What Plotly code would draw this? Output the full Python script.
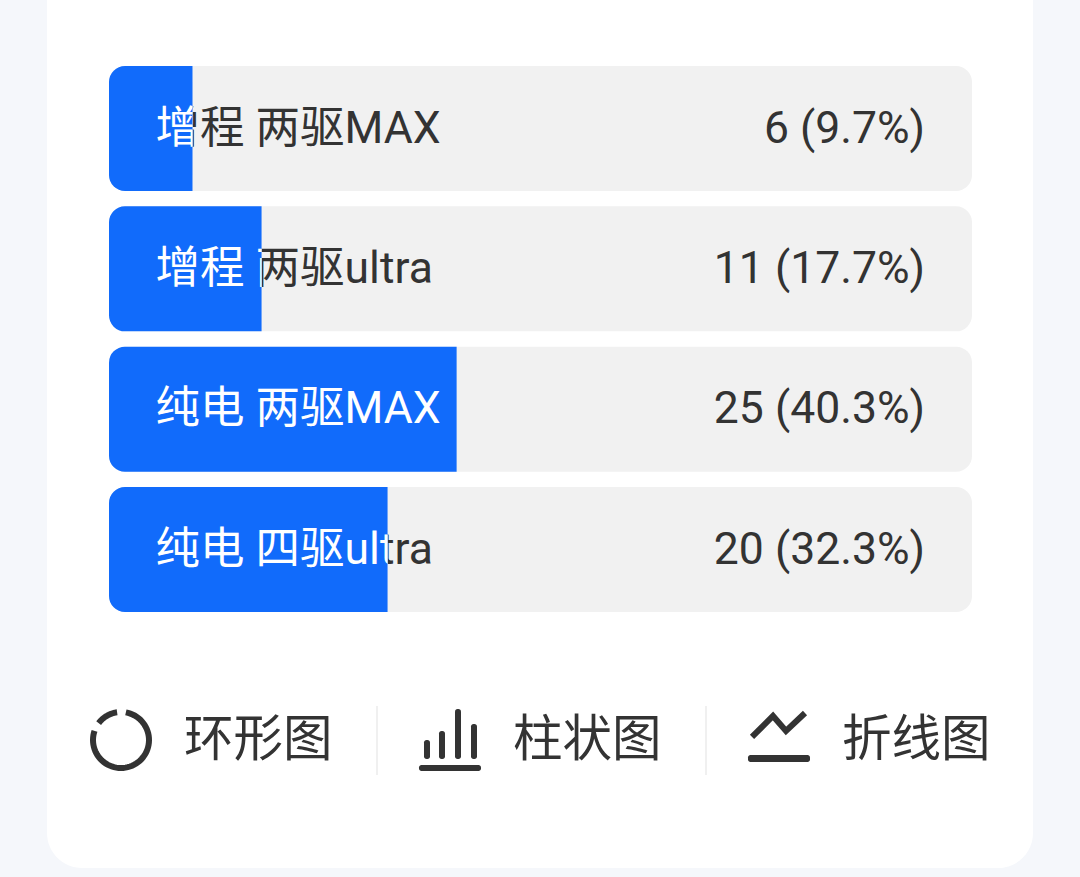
import numpy as np
import plotly.graph_objects as go

# ---- data ----
categories = ["增程 两驱MAX", "增程 两驱ultra", "纯电 两驱MAX", "纯电 四驱ultra"]
counts = [6, 11, 25, 20]
percents = [9.7, 17.7, 40.3, 32.3]
switch_labels = ["环形图", "柱状图", "折线图"]

# ---- styles ----
W, H = 1080, 877
BG, CARD, TRACK, BLUE, INK, SEP = "#f5f7fb", "#ffffff", "#f1f1f1", "#116bfb", "#333333", "#ebebeb"
FONT = "Roboto, 'Noto Sans CJK SC'"
CJK = "Noto Sans CJK SC"
FS_ROW, FS_SW = 44.5, 49.5
X0, X1 = 109, 972
UNIT = (X1 - X0) / 100
PITCH = 140.33
ROW0 = 128.5
BAR_H = 125
RADIUS = 16
LABEL_X = (155.5 - X0) / UNIT
VALUE_X = (925 - X0) / UNIT
TEXT_DY = 3 / PITCH

px = lambda x: x / W
py = lambda y: 1 - y / H
pt = lambda x, y: f"{px(x):.5f},{py(y):.5f}"


def rrect(x0, y0, x1, y1, r):
    k = r * 0.45
    return (f"M{pt(x0 + r, y0)} L{pt(x1 - r, y0)} C{pt(x1 - k, y0)} {pt(x1, y0 + k)} {pt(x1, y0 + r)} "
            f"L{pt(x1, y1 - r)} C{pt(x1, y1 - k)} {pt(x1 - k, y1)} {pt(x1 - r, y1)} "
            f"L{pt(x0 + r, y1)} C{pt(x0 + k, y1)} {pt(x0, y1 - k)} {pt(x0, y1 - r)} "
            f"L{pt(x0, y0 + r)} C{pt(x0, y0 + k)} {pt(x0 + k, y0)} {pt(x0 + r, y0)} Z")


def arc(cx, cy, r, a0, a1):
    t = np.radians(np.linspace(a0, a1, 60))
    p = [pt(cx + r * np.sin(a), cy - r * np.cos(a)) for a in t]
    return "M" + " L".join(p)


fig = go.Figure()
n = len(categories)
rows = list(range(n))
text_rows = [r + TEXT_DY for r in rows]
bar_w = BAR_H / PITCH

# grey track: an explicit base rounds both ends
fig.add_trace(go.Bar(y=rows, x=[100] * n, base=[0] * n, orientation="h", width=bar_w,
                     marker=dict(color=TRACK, line_width=0, cornerradius=RADIUS),
                     hoverinfo="skip", showlegend=False))
# dark labels and values
fig.add_trace(go.Scatter(y=text_rows, x=[LABEL_X] * n, mode="text", text=categories,
                         textposition="middle right", textfont=dict(family=FONT, size=FS_ROW, color=INK),
                         hoverinfo="skip", showlegend=False))
fig.add_trace(go.Scatter(y=text_rows, x=[VALUE_X] * n, mode="text",
                         text=[f"{c} ({p}%)" for c, p in zip(counts, percents)],
                         textposition="middle left", textfont=dict(family=FONT, size=FS_ROW, color=INK),
                         hoverinfo="skip", showlegend=False))

layout_axes = {}
for i, (cat, p) in enumerate(zip(categories, percents)):
    ax = f"x{i + 2}"
    # Each blue bar has its own reversed axis: zero sits at the bar's right end, so only the
    # left (far) end is rounded, and the white label is clipped where the bar stops.
    fig.add_trace(go.Bar(y=[i], x=[p], orientation="h", width=bar_w, xaxis=ax, yaxis="y",
                         marker=dict(color=BLUE, line_width=0, cornerradius=RADIUS),
                         hoverinfo="skip", showlegend=False))
    fig.add_trace(go.Scatter(y=[i + TEXT_DY], x=[p - LABEL_X], mode="text", text=[cat], xaxis=ax, yaxis="y",
                             textposition="middle right", cliponaxis=True,
                             textfont=dict(family=FONT, size=FS_ROW, color="#ffffff"),
                             hoverinfo="skip", showlegend=False))
    layout_axes[f"xaxis{i + 2}"] = dict(domain=[px(X0), px(X0 + p * UNIT)], range=[p, 0], visible=False,
                                        anchor="y", fixedrange=True)

# ---- decoration ----
shapes = [dict(type="path", xref="paper", yref="paper", path=rrect(47, -60, 1033, 868, 35),
               fillcolor=CARD, line_width=0, layer="below")]
for x in (377, 706):
    shapes.append(dict(type="line", xref="paper", yref="paper", x0=px(x), x1=px(x), y0=py(706), y1=py(775),
                       line=dict(color=SEP, width=1.5), layer="below"))
# ring icon
for a0, a1 in ((10, 289), (307, 352)):
    shapes.append(dict(type="path", xref="paper", yref="paper", path=arc(121, 740, 28, a0, a1),
                       line=dict(color=INK, width=6), layer="above"))
# column icon
for x0, x1, y0 in ((424, 430, 740), (439, 445, 731), (455, 461, 709), (471, 477, 724)):
    shapes.append(dict(type="path", xref="paper", yref="paper", path=rrect(x0, y0, x1, 759, 2.5),
                       fillcolor=INK, line_width=0, layer="above"))
shapes.append(dict(type="path", xref="paper", yref="paper", path=rrect(419, 765, 481, 771, 2.5),
                   fillcolor=INK, line_width=0, layer="above"))
# line icon
shapes.append(dict(type="path", xref="paper", yref="paper",
                   path="M" + " L".join(pt(x, y) for x, y in ((752, 737), (773, 716), (786, 731), (805, 713))),
                   line=dict(color=INK, width=6), layer="above"))
shapes.append(dict(type="path", xref="paper", yref="paper", path=rrect(748, 755, 810, 762, 2.5),
                   fillcolor=INK, line_width=0, layer="above"))

annotations = [dict(text=t, xref="paper", yref="paper", x=px(x), y=py(734), xanchor="left", yanchor="middle",
                    showarrow=False, font=dict(family=CJK, size=FS_SW, color=INK))
               for t, x in zip(switch_labels, (182, 511, 840))]

fig.update_layout(
    width=W, height=H, margin=dict(l=0, r=0, t=0, b=0), autosize=False,
    paper_bgcolor=BG, plot_bgcolor="rgba(0,0,0,0)", barmode="overlay",
    xaxis=dict(domain=[0, 1], range=[-X0 / UNIT, (W - X0) / UNIT], visible=False, fixedrange=True),
    yaxis=dict(domain=[0, 1], range=[(H - ROW0) / PITCH, -ROW0 / PITCH], visible=False, fixedrange=True),
    shapes=shapes, annotations=annotations, showlegend=False,
    **layout_axes,
)
fig.write_html("out.html", config=dict(displayModeBar=False),
               post_script="document.body.style.margin='0';document.body.style.background='%s';" % BG)
